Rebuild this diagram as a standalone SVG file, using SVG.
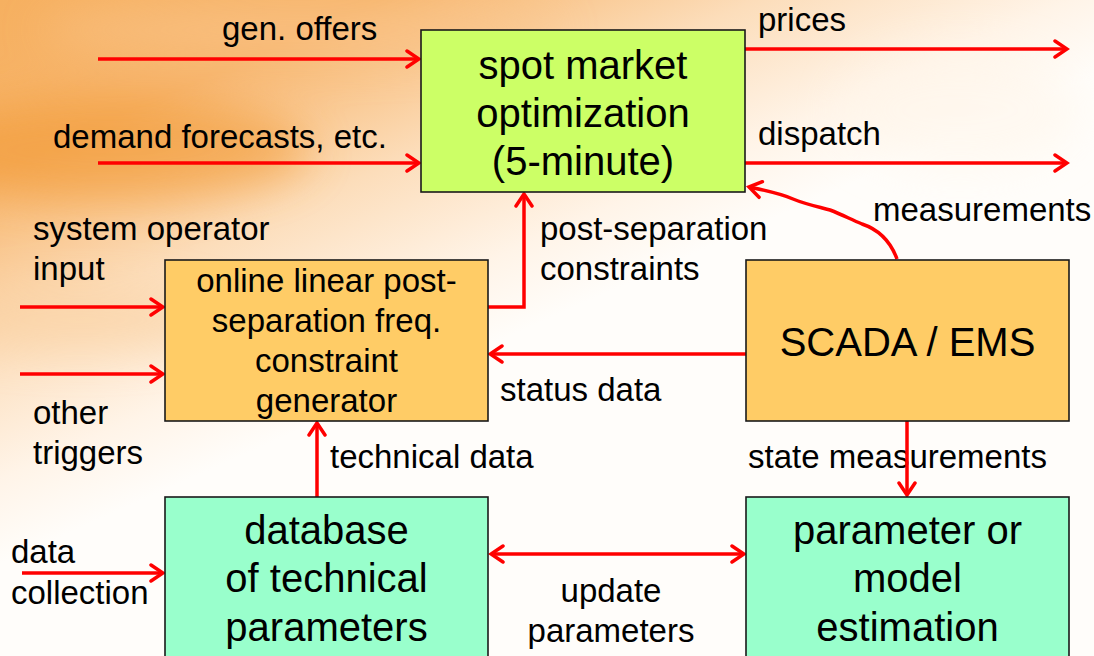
<svg xmlns="http://www.w3.org/2000/svg" width="1094" height="656" viewBox="0 0 1094 656">
  <defs>
    <linearGradient id="bg" gradientUnits="userSpaceOnUse" x1="0" y1="0" x2="210" y2="470">
      <stop offset="0" stop-color="#F6B060"/>
      <stop offset="0.3" stop-color="#F7B56C"/>
      <stop offset="0.6" stop-color="#FCDDBA"/>
      <stop offset="0.85" stop-color="#FFF4E8"/>
      <stop offset="1" stop-color="#FFFDFA"/>
    </linearGradient>
    <filter id="soft" x="-50%" y="-50%" width="200%" height="200%">
      <feGaussianBlur stdDeviation="22"/>
    </filter>
    <marker id="head" viewBox="-16 -11 19 22" refX="0" refY="0" markerUnits="userSpaceOnUse" markerWidth="19" markerHeight="22" orient="auto-start-reverse">
      <path d="M-12,-8 L0,0 L-12,8" fill="none" stroke="#FF0000" stroke-width="3.5" stroke-linecap="round" stroke-linejoin="miter"/>
    </marker>
    <style>
      .box { stroke: #1a1a1a; stroke-width: 1.6; }
      .green { fill: #CCFF66; }
      .orange { fill: #FFCC66; }
      .mint { fill: #99FFCC; }
      .big { font-family: "Liberation Sans", Arial, sans-serif; font-size: 40px; fill: #000; text-anchor: middle; }
      .mid { font-family: "Liberation Sans", Arial, sans-serif; font-size: 33px; fill: #000; text-anchor: middle; }
      .lbl { font-family: "Liberation Sans", Arial, sans-serif; font-size: 33px; fill: #000; }
      .wire { fill: none; stroke: #FF0000; stroke-width: 3.5; marker-end: url(#head); }
    </style>
  </defs>

  <!-- warm slide background with soft streaks -->
  <rect x="0" y="0" width="1094" height="656" fill="url(#bg)"/>
  <g filter="url(#soft)" opacity="0.6">
    <ellipse cx="110" cy="150" rx="200" ry="50" fill="#F29A35"/>
    <ellipse cx="300" cy="30" rx="260" ry="28" fill="#F9C48A"/>
    <ellipse cx="960" cy="110" rx="120" ry="60" fill="#FFF6EA"/>
    <ellipse cx="80" cy="320" rx="160" ry="30" fill="#FAD0A0"/>
  </g>

  <!-- connectors with their labels -->
  <g id="connectors">
    <text class="lbl" x="222" y="40">gen. offers</text>
    <text class="lbl" x="53" y="148">demand forecasts, etc.</text>
    <text class="lbl" x="758" y="31">prices</text>
    <text class="lbl" x="758" y="145">dispatch</text>
    <text class="lbl" x="873" y="221">measurements</text>
    <text class="lbl" x="540" y="240">post-separation</text>
    <text class="lbl" x="540" y="280">constraints</text>
    <text class="lbl" x="33" y="240">system operator</text>
    <text class="lbl" x="33" y="280">input</text>
    <text class="lbl" x="33" y="424">other</text>
    <text class="lbl" x="33" y="464">triggers</text>
    <text class="lbl" x="500" y="401">status data</text>
    <text class="lbl" x="330" y="468">technical data</text>
    <text class="lbl" x="748" y="468">state measurements</text>
    <text class="lbl" x="611" y="602" text-anchor="middle">update</text>
    <text class="lbl" x="611" y="642" text-anchor="middle">parameters</text>
    <text class="lbl" x="11" y="563">data</text>
    <text class="lbl" x="11" y="604">collection</text>

    <path class="wire" d="M98,59 H419"/>
    <path class="wire" d="M98,163 H419"/>
    <path class="wire" d="M745,49 H1067"/>
    <path class="wire" d="M745,163 H1067"/>
    <path class="wire" d="M897,259 C890,240 877,229 862,224 C850,219 843,215 830,210 C815,206 805,204 793,199 C779,193 763,190 749,187"/>
    <path class="wire" d="M488,307 H524 V194"/>
    <path class="wire" d="M20,307 H163"/>
    <path class="wire" d="M20,374 H163"/>
    <path class="wire" d="M746,354 H490"/>
    <path class="wire" d="M317,497 V423"/>
    <path class="wire" d="M907,421 V495"/>
    <path class="wire" d="M491,554 H744" marker-start="url(#head)"/>
    <path class="wire" d="M22,573 H163"/>
  </g>

  <g id="spot-market">
    <rect class="box green" x="421" y="30" width="324" height="162"/>
    <text class="big" x="583" y="79">spot market</text>
    <text class="big" x="583" y="127">optimization</text>
    <text class="big" x="583" y="175">(5-minute)</text>
  </g>

  <g id="constraint-generator">
    <rect class="box orange" x="165" y="260" width="323" height="161"/>
    <text class="mid" x="326.5" y="292">online linear post-</text>
    <text class="mid" x="326.5" y="332">separation freq.</text>
    <text class="mid" x="326.5" y="372">constraint</text>
    <text class="mid" x="326.5" y="412">generator</text>
  </g>

  <g id="scada-ems">
    <rect class="box orange" x="746" y="260" width="323" height="161"/>
    <text class="big" x="907.5" y="356">SCADA / EMS</text>
  </g>

  <g id="parameter-database">
    <rect class="box mint" x="165" y="497" width="323" height="175"/>
    <text class="big" x="326.5" y="544">database</text>
    <text class="big" x="326.5" y="592">of technical</text>
    <text class="big" x="326.5" y="641">parameters</text>
  </g>

  <g id="model-estimation">
    <rect class="box mint" x="746" y="497" width="323" height="175"/>
    <text class="big" x="907.5" y="544">parameter or</text>
    <text class="big" x="907.5" y="592">model</text>
    <text class="big" x="907.5" y="641">estimation</text>
  </g>
</svg>
